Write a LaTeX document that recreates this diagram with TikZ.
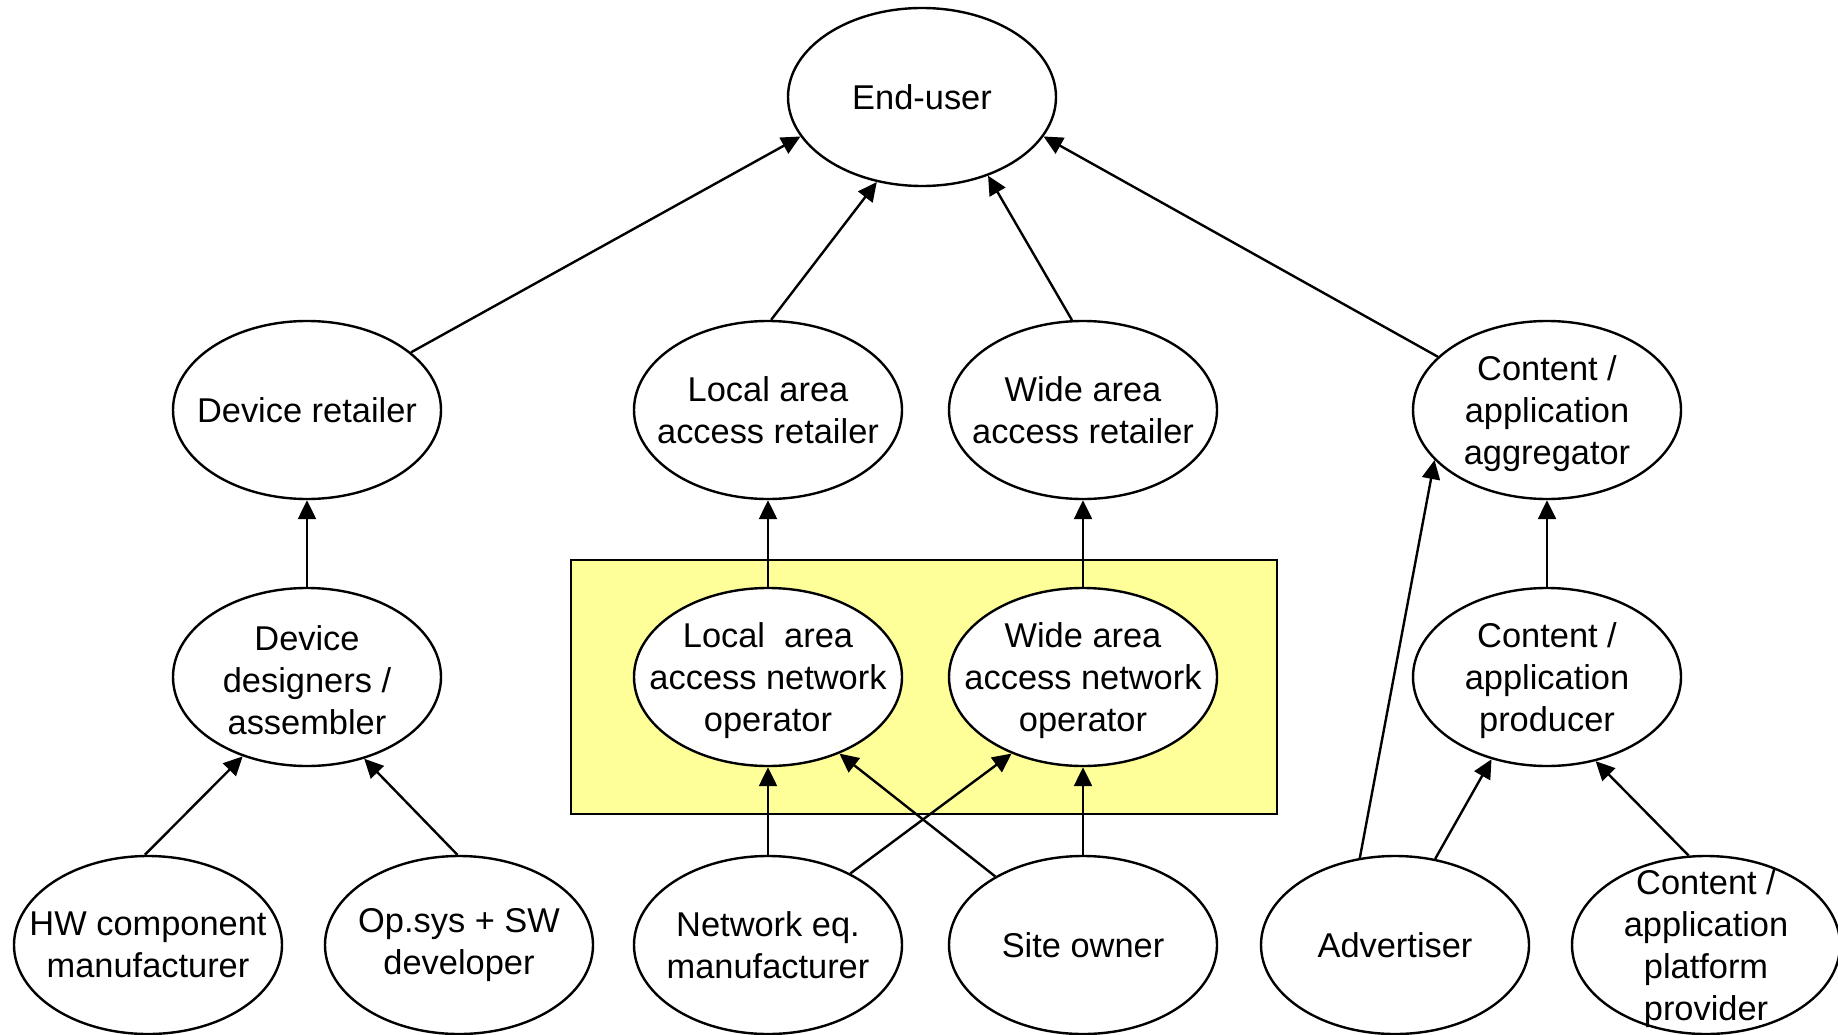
\documentclass[tikz,border=0pt]{standalone}
\usepackage{fontspec}
\setmainfont{Liberation Sans}
\usetikzlibrary{arrows.meta,shapes.geometric}
\definecolor{opbox}{RGB}{255,255,153}
\begin{document}
\begin{tikzpicture}[x=1pt,y=-1pt,
  caption/.style={align=center,inner sep=0pt,
    font=\fontsize{34.4}{42}\selectfont},
  oval/.style={ellipse,draw,line width=2.4pt,fill=white,minimum width=268pt,
    minimum height=178pt,inner sep=0pt},
  actor/.style={oval,label={[caption]center:#1}},
  actorlow/.style={oval,label={[caption,yshift=-3.5pt]center:#1}},
  link/.style={line width=2.4pt,-{Triangle[length=19pt,width=18pt]}}]
\useasboundingbox (0,0) rectangle (1838,1035);

% operator group
\draw[line width=2.6pt,fill=opbox] (571,560) rectangle (1277,814);

% top
\node[actor={End-user}] (eu) at (922,97) {};

% retail layer
\node[actor={Device retailer}] (dr) at (307,410) {};
\node[actor={Local area\\access retailer}] (lar) at (768,410) {};
\node[actor={Wide area\\access retailer}] (war) at (1083,410) {};
\node[actorlow={Content /\\application\\aggregator}] (ca) at (1547,410) {};

% production layer
\node[actorlow={Device\\designers /\\assembler}] (dd) at (307,677) {};
\node[actorlow={Local\ \ area\\access network\\operator}] (lano) at (768,677) {};
\node[actorlow={Wide area\\access network\\operator}] (wano) at (1083,677) {};
\node[actorlow={Content /\\application\\producer}] (cp) at (1547,677) {};

% supply layer
\node[actor={HW component\\manufacturer}] (hw) at (148,945) {};
\node[actor={Op.sys + SW\\developer}] (os) at (459,945) {};
\node[actor={Network eq.\\manufacturer}] (ne) at (768,945) {};
\node[actor={Site owner}] (so) at (1083,945) {};
\node[actor={Advertiser}] (adv) at (1395,945) {};
\node[actorlow={Content /\\application\\platform\\provider}] (pp) at (1706,945) {};

% links to the end-user
\draw[link] (dr.29)   -- (eu.198);
\draw[link] (lar.88)  -- (eu.242);
\draw[link] (war.97)  -- (eu.310);
\draw[link] (ca.154)  -- (eu.342);

% vertical links
\draw[link] (dd)   -- (dr);
\draw[link] (lano) -- (lar);
\draw[link] (wano) -- (war);
\draw[link] (cp)   -- (ca);

% supply links
\draw[link] (hw.92)   -- (dd.231);
\draw[link] (os.91)   -- (dd.305);
\draw[link] (ne)      -- (lano);
\draw[link] (ne.41)   -- (wano.227);
\draw[link] (so.142)  -- (lano.313);
\draw[link] (so)      -- (wano);
\draw[link] (adv.112) -- (ca.204);
\draw[link] (adv.65)  -- (cp.236);
\draw[link] (pp.101)  -- (cp.300);
\end{tikzpicture}
\end{document}
